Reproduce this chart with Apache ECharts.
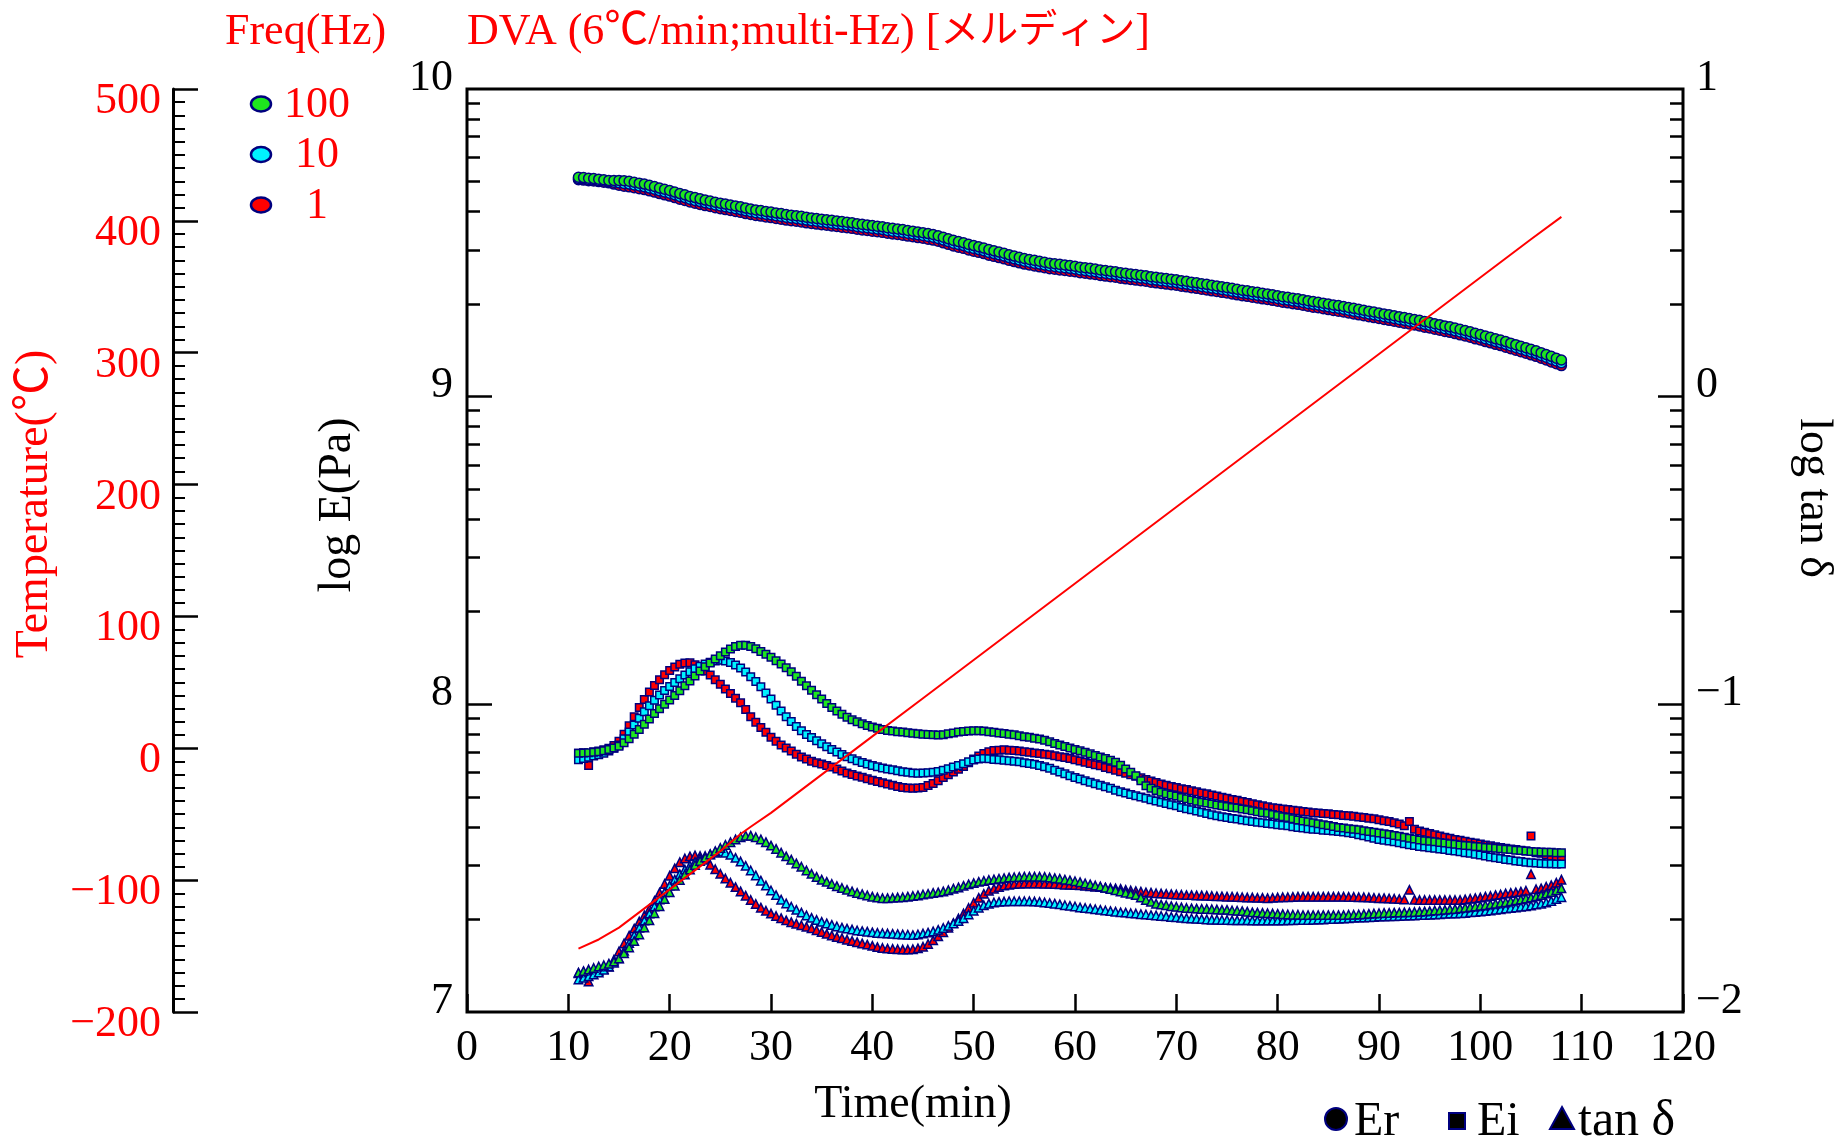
<!DOCTYPE html>
<html>
<head>
<meta charset="utf-8">
<title>DVA multi-Hz</title>
<script src="https://cdn.jsdelivr.net/npm/echarts@6/dist/echarts.min.js"></script>
<style>
html,body{margin:0;padding:0;background:#fff;}
#chart{width:1840px;height:1139px;}
</style>
</head>
<body>
<div id="chart"></div>
<script>
// Measurement time (min), every 0.5 min
const time = [11,11.5,12,12.5,13,13.5,14,14.5,15,15.5,16,16.5,17,17.5,18,18.5,19,19.5,20,20.5,
  21,21.5,22,22.5,23,23.5,24,24.5,25,25.5,26,26.5,27,27.5,28,28.5,29,29.5,30,30.5,
  31,31.5,32,32.5,33,33.5,34,34.5,35,35.5,36,36.5,37,37.5,38,38.5,39,39.5,40,40.5,
  41,41.5,42,42.5,43,43.5,44,44.5,45,45.5,46,46.5,47,47.5,48,48.5,49,49.5,50,50.5,
  51,51.5,52,52.5,53,53.5,54,54.5,55,55.5,56,56.5,57,57.5,58,58.5,59,59.5,60,60.5,
  61,61.5,62,62.5,63,63.5,64,64.5,65,65.5,66,66.5,67,67.5,68,68.5,69,69.5,70,70.5,
  71,71.5,72,72.5,73,73.5,74,74.5,75,75.5,76,76.5,77,77.5,78,78.5,79,79.5,80,80.5,
  81,81.5,82,82.5,83,83.5,84,84.5,85,85.5,86,86.5,87,87.5,88,88.5,89,89.5,90,90.5,
  91,91.5,92,92.5,93,93.5,94,94.5,95,95.5,96,96.5,97,97.5,98,98.5,99,99.5,100,100.5,
  101,101.5,102,102.5,103,103.5,104,104.5,105,105.5,106,106.5,107,107.5,108];

// log Er (Pa)
const er100 = [9.713,9.712,9.710,9.709,9.707,9.705,9.703,9.703,9.703,9.702,
  9.700,9.697,9.694,9.691,9.687,9.683,9.678,9.674,9.670,9.665,
  9.660,9.656,9.651,9.647,9.643,9.639,9.636,9.632,9.629,9.626,
  9.623,9.620,9.617,9.613,9.610,9.607,9.605,9.602,9.600,9.597,
  9.595,9.592,9.590,9.588,9.586,9.583,9.581,9.579,9.577,9.575,
  9.573,9.571,9.569,9.567,9.565,9.562,9.560,9.558,9.556,9.554,
  9.552,9.549,9.547,9.545,9.543,9.540,9.538,9.535,9.533,9.530,
  9.527,9.523,9.518,9.513,9.508,9.504,9.500,9.495,9.491,9.487,
  9.483,9.478,9.474,9.470,9.466,9.461,9.457,9.453,9.449,9.446,
  9.443,9.440,9.437,9.434,9.432,9.430,9.428,9.426,9.424,9.421,
  9.419,9.417,9.415,9.412,9.410,9.408,9.406,9.403,9.401,9.399,
  9.397,9.395,9.393,9.390,9.388,9.386,9.384,9.382,9.380,9.377,
  9.375,9.372,9.370,9.367,9.365,9.362,9.360,9.357,9.355,9.352,
  9.349,9.346,9.344,9.341,9.339,9.336,9.334,9.331,9.328,9.325,
  9.323,9.320,9.318,9.315,9.312,9.309,9.307,9.304,9.301,9.298,
  9.296,9.293,9.290,9.287,9.284,9.281,9.278,9.275,9.272,9.269,
  9.266,9.263,9.260,9.257,9.254,9.251,9.248,9.244,9.241,9.237,
  9.234,9.230,9.227,9.223,9.219,9.215,9.211,9.206,9.202,9.197,
  9.193,9.188,9.184,9.179,9.174,9.169,9.164,9.159,9.154,9.149,
  9.143,9.137,9.131,9.125,9.119];
const er10 = [9.709,9.708,9.706,9.705,9.703,9.701,9.699,9.697,9.695,9.693,
  9.691,9.688,9.685,9.682,9.678,9.674,9.669,9.665,9.661,9.656,
  9.651,9.647,9.642,9.638,9.634,9.630,9.627,9.623,9.620,9.617,
  9.614,9.611,9.608,9.604,9.601,9.598,9.596,9.593,9.591,9.588,
  9.586,9.583,9.581,9.579,9.577,9.574,9.572,9.570,9.568,9.566,
  9.564,9.562,9.560,9.558,9.556,9.553,9.551,9.549,9.547,9.545,
  9.543,9.540,9.538,9.536,9.534,9.531,9.529,9.526,9.524,9.521,
  9.518,9.514,9.509,9.504,9.499,9.495,9.491,9.486,9.482,9.478,
  9.474,9.469,9.465,9.461,9.457,9.452,9.448,9.444,9.440,9.437,
  9.434,9.431,9.428,9.425,9.423,9.421,9.419,9.417,9.415,9.412,
  9.410,9.408,9.406,9.403,9.401,9.399,9.397,9.394,9.392,9.390,
  9.388,9.386,9.384,9.381,9.379,9.377,9.375,9.373,9.371,9.368,
  9.366,9.363,9.361,9.358,9.356,9.353,9.351,9.348,9.346,9.343,
  9.340,9.337,9.335,9.332,9.330,9.327,9.325,9.322,9.319,9.316,
  9.314,9.311,9.309,9.306,9.303,9.300,9.298,9.295,9.292,9.289,
  9.287,9.284,9.281,9.278,9.275,9.272,9.269,9.266,9.263,9.260,
  9.257,9.254,9.251,9.248,9.245,9.242,9.239,9.235,9.232,9.228,
  9.225,9.221,9.218,9.214,9.210,9.206,9.202,9.197,9.193,9.188,
  9.184,9.179,9.175,9.170,9.165,9.160,9.155,9.150,9.145,9.140,
  9.134,9.128,9.122,9.116,9.110];
const er1 = [9.705,9.704,9.702,9.701,9.699,9.697,9.695,9.691,9.687,9.684,
  9.682,9.679,9.676,9.673,9.669,9.665,9.660,9.656,9.652,9.647,
  9.642,9.638,9.633,9.629,9.625,9.621,9.618,9.614,9.611,9.608,
  9.605,9.602,9.599,9.595,9.592,9.589,9.587,9.584,9.582,9.579,
  9.577,9.574,9.572,9.570,9.568,9.565,9.563,9.561,9.559,9.557,
  9.555,9.553,9.551,9.549,9.547,9.544,9.542,9.540,9.538,9.536,
  9.534,9.531,9.529,9.527,9.525,9.522,9.520,9.517,9.515,9.512,
  9.509,9.505,9.500,9.495,9.490,9.486,9.482,9.477,9.473,9.469,
  9.465,9.460,9.456,9.452,9.448,9.443,9.439,9.435,9.431,9.428,
  9.425,9.422,9.419,9.416,9.414,9.412,9.410,9.408,9.406,9.403,
  9.401,9.399,9.397,9.394,9.392,9.390,9.388,9.385,9.383,9.381,
  9.379,9.377,9.375,9.372,9.370,9.368,9.366,9.364,9.362,9.359,
  9.357,9.354,9.352,9.349,9.347,9.344,9.342,9.339,9.337,9.334,
  9.331,9.328,9.326,9.323,9.321,9.318,9.316,9.313,9.310,9.307,
  9.305,9.302,9.300,9.297,9.294,9.291,9.289,9.286,9.283,9.280,
  9.278,9.275,9.272,9.269,9.266,9.263,9.260,9.257,9.254,9.251,
  9.248,9.245,9.242,9.239,9.236,9.233,9.230,9.226,9.223,9.219,
  9.216,9.212,9.209,9.205,9.201,9.197,9.193,9.188,9.184,9.179,
  9.175,9.170,9.166,9.161,9.156,9.151,9.146,9.141,9.136,9.131,
  9.125,9.119,9.113,9.107,9.101];

// log Ei (Pa)
const ei100 = [7.841,7.842,7.843,7.844,7.846,7.849,7.853,7.858,7.864,7.875,
  7.888,7.903,7.918,7.935,7.952,7.970,7.986,8.000,8.014,8.029,
  8.044,8.060,8.076,8.092,8.108,8.122,8.134,8.147,8.158,8.170,
  8.180,8.188,8.192,8.192,8.188,8.181,8.172,8.163,8.153,8.142,
  8.131,8.119,8.106,8.091,8.075,8.060,8.046,8.031,8.017,8.003,
  7.990,7.978,7.968,7.958,7.950,7.943,7.937,7.931,7.926,7.922,
  7.918,7.915,7.913,7.911,7.910,7.908,7.906,7.904,7.903,7.902,
  7.901,7.900,7.901,7.904,7.907,7.910,7.912,7.913,7.914,7.914,
  7.913,7.911,7.909,7.907,7.905,7.903,7.901,7.898,7.895,7.893,
  7.890,7.887,7.883,7.878,7.873,7.868,7.863,7.858,7.853,7.849,
  7.844,7.839,7.834,7.829,7.824,7.818,7.812,7.802,7.790,7.779,
  7.768,7.752,7.735,7.727,7.720,7.714,7.709,7.705,7.702,7.697,
  7.693,7.689,7.685,7.682,7.679,7.676,7.673,7.670,7.668,7.665,
  7.663,7.660,7.657,7.654,7.651,7.648,7.646,7.642,7.639,7.635,
  7.632,7.628,7.624,7.621,7.618,7.615,7.612,7.609,7.606,7.603,
  7.600,7.598,7.596,7.594,7.592,7.589,7.587,7.584,7.582,7.579,
  7.577,7.574,7.571,7.568,7.565,7.562,7.559,7.557,7.555,7.553,
  7.551,7.549,7.547,7.545,7.543,7.541,7.540,7.538,7.537,7.535,
  7.534,7.532,7.531,7.529,7.528,7.526,7.525,7.523,7.522,7.521,
  7.520,7.519,7.519,7.518,7.518];
const ei10 = [7.820,7.824,7.828,7.832,7.836,7.841,7.848,7.857,7.868,7.888,
  7.910,7.933,7.955,7.976,7.995,8.013,8.030,8.045,8.058,8.071,
  8.083,8.095,8.106,8.116,8.124,8.131,8.137,8.141,8.143,8.141,
  8.136,8.128,8.118,8.105,8.090,8.074,8.057,8.037,8.017,7.997,
  7.978,7.960,7.944,7.928,7.914,7.902,7.892,7.882,7.872,7.862,
  7.853,7.845,7.837,7.830,7.823,7.817,7.811,7.806,7.801,7.797,
  7.793,7.790,7.787,7.784,7.781,7.779,7.777,7.776,7.777,7.778,
  7.779,7.782,7.786,7.791,7.796,7.801,7.807,7.813,7.819,7.822,
  7.824,7.823,7.821,7.820,7.818,7.817,7.815,7.813,7.810,7.808,
  7.805,7.801,7.797,7.792,7.786,7.780,7.774,7.768,7.762,7.757,
  7.752,7.747,7.742,7.737,7.732,7.727,7.721,7.716,7.712,7.707,
  7.703,7.699,7.695,7.690,7.686,7.682,7.678,7.674,7.670,7.665,
  7.661,7.657,7.653,7.649,7.645,7.641,7.638,7.635,7.632,7.629,
  7.627,7.624,7.622,7.619,7.617,7.615,7.613,7.611,7.609,7.607,
  7.605,7.602,7.600,7.598,7.596,7.594,7.593,7.591,7.590,7.588,
  7.587,7.585,7.583,7.580,7.576,7.573,7.569,7.565,7.561,7.558,
  7.556,7.553,7.550,7.547,7.544,7.541,7.538,7.536,7.534,7.532,
  7.530,7.528,7.525,7.523,7.521,7.518,7.516,7.513,7.510,7.507,
  7.504,7.501,7.499,7.496,7.494,7.491,7.489,7.487,7.485,7.484,
  7.483,7.482,7.482,7.481,7.481];
const ei1 = [7.841,7.843,7.801,7.846,7.848,7.852,7.857,7.866,7.880,7.903,
  7.930,7.960,7.990,8.016,8.040,8.061,8.080,8.096,8.110,8.121,
  8.130,8.134,8.135,8.129,8.120,8.108,8.095,8.080,8.065,8.050,
  8.035,8.020,8.005,7.983,7.960,7.942,7.925,7.909,7.893,7.880,
  7.868,7.858,7.848,7.838,7.829,7.822,7.815,7.810,7.806,7.801,
  7.796,7.790,7.783,7.777,7.772,7.767,7.763,7.758,7.753,7.749,
  7.745,7.741,7.737,7.733,7.730,7.728,7.727,7.728,7.730,7.736,
  7.743,7.752,7.762,7.771,7.780,7.789,7.798,7.810,7.822,7.832,
  7.840,7.846,7.850,7.851,7.852,7.851,7.850,7.848,7.846,7.844,
  7.842,7.840,7.838,7.836,7.833,7.830,7.827,7.824,7.820,7.816,
  7.812,7.808,7.804,7.800,7.795,7.791,7.786,7.781,7.776,7.771,
  7.766,7.761,7.756,7.751,7.746,7.741,7.737,7.733,7.730,7.726,
  7.723,7.719,7.716,7.712,7.709,7.705,7.702,7.698,7.695,7.691,
  7.688,7.684,7.681,7.677,7.674,7.670,7.667,7.664,7.662,7.660,
  7.658,7.656,7.654,7.652,7.650,7.648,7.647,7.645,7.644,7.642,
  7.641,7.639,7.638,7.636,7.634,7.632,7.630,7.628,7.625,7.622,
  7.619,7.615,7.611,7.605,7.619,7.594,7.588,7.584,7.580,7.576,
  7.572,7.568,7.565,7.561,7.558,7.555,7.552,7.549,7.546,7.543,
  7.540,7.537,7.535,7.532,7.530,7.528,7.526,7.523,7.572,7.518,
  7.516,7.511,7.506,7.502,7.497];

// log tan delta
const tan100 = [-1.872,-1.867,-1.862,-1.857,-1.852,-1.848,-1.843,-1.836,-1.826,-1.809,
  -1.790,-1.769,-1.748,-1.725,-1.702,-1.679,-1.656,-1.633,-1.611,-1.590,
  -1.571,-1.553,-1.537,-1.522,-1.509,-1.498,-1.488,-1.477,-1.467,-1.457,
  -1.448,-1.439,-1.432,-1.427,-1.427,-1.432,-1.439,-1.448,-1.459,-1.470,
  -1.482,-1.494,-1.505,-1.517,-1.528,-1.540,-1.551,-1.561,-1.570,-1.577,
  -1.584,-1.591,-1.597,-1.603,-1.608,-1.613,-1.617,-1.621,-1.625,-1.628,
  -1.630,-1.630,-1.629,-1.628,-1.627,-1.625,-1.623,-1.621,-1.618,-1.616,
  -1.613,-1.611,-1.608,-1.604,-1.599,-1.595,-1.590,-1.585,-1.581,-1.577,
  -1.574,-1.571,-1.569,-1.567,-1.565,-1.563,-1.562,-1.561,-1.560,-1.560,
  -1.560,-1.560,-1.561,-1.563,-1.565,-1.567,-1.570,-1.572,-1.575,-1.578,
  -1.582,-1.585,-1.589,-1.592,-1.596,-1.600,-1.604,-1.608,-1.612,-1.616,
  -1.620,-1.628,-1.636,-1.642,-1.648,-1.651,-1.653,-1.656,-1.658,-1.660,
  -1.662,-1.663,-1.664,-1.665,-1.665,-1.666,-1.667,-1.668,-1.668,-1.670,
  -1.671,-1.672,-1.674,-1.676,-1.677,-1.678,-1.679,-1.680,-1.681,-1.682,
  -1.683,-1.684,-1.684,-1.685,-1.685,-1.685,-1.685,-1.685,-1.685,-1.685,
  -1.685,-1.685,-1.684,-1.684,-1.683,-1.682,-1.681,-1.680,-1.679,-1.678,
  -1.678,-1.677,-1.677,-1.676,-1.676,-1.675,-1.674,-1.673,-1.672,-1.670,
  -1.669,-1.668,-1.666,-1.665,-1.663,-1.661,-1.659,-1.657,-1.655,-1.653,
  -1.650,-1.648,-1.645,-1.643,-1.640,-1.637,-1.634,-1.631,-1.628,-1.624,
  -1.620,-1.615,-1.610,-1.604,-1.598];
const tan10 = [-1.894,-1.889,-1.884,-1.878,-1.872,-1.863,-1.852,-1.840,-1.825,-1.801,
  -1.776,-1.751,-1.726,-1.703,-1.680,-1.657,-1.634,-1.611,-1.589,-1.570,
  -1.552,-1.537,-1.524,-1.512,-1.501,-1.493,-1.487,-1.482,-1.479,-1.482,
  -1.489,-1.499,-1.511,-1.525,-1.540,-1.556,-1.573,-1.589,-1.605,-1.620,
  -1.635,-1.647,-1.658,-1.668,-1.677,-1.686,-1.694,-1.701,-1.707,-1.712,
  -1.717,-1.722,-1.726,-1.729,-1.732,-1.735,-1.737,-1.739,-1.741,-1.743,
  -1.744,-1.745,-1.746,-1.747,-1.748,-1.749,-1.750,-1.748,-1.745,-1.742,
  -1.738,-1.733,-1.727,-1.720,-1.712,-1.704,-1.695,-1.683,-1.671,-1.661,
  -1.653,-1.648,-1.644,-1.642,-1.641,-1.640,-1.640,-1.640,-1.640,-1.640,
  -1.641,-1.642,-1.644,-1.646,-1.648,-1.650,-1.653,-1.655,-1.657,-1.660,
  -1.662,-1.664,-1.666,-1.668,-1.670,-1.672,-1.674,-1.676,-1.677,-1.679,
  -1.680,-1.682,-1.683,-1.685,-1.686,-1.688,-1.689,-1.691,-1.692,-1.694,
  -1.695,-1.696,-1.697,-1.698,-1.699,-1.700,-1.700,-1.701,-1.701,-1.702,
  -1.702,-1.702,-1.702,-1.703,-1.703,-1.703,-1.703,-1.703,-1.703,-1.703,
  -1.702,-1.702,-1.701,-1.701,-1.701,-1.700,-1.699,-1.699,-1.698,-1.698,
  -1.697,-1.696,-1.695,-1.694,-1.693,-1.693,-1.692,-1.691,-1.690,-1.690,
  -1.689,-1.689,-1.688,-1.687,-1.686,-1.686,-1.685,-1.685,-1.684,-1.683,
  -1.682,-1.681,-1.680,-1.680,-1.679,-1.678,-1.676,-1.675,-1.673,-1.672,
  -1.670,-1.668,-1.666,-1.664,-1.662,-1.660,-1.658,-1.656,-1.654,-1.651,
  -1.648,-1.644,-1.639,-1.633,-1.627];
const tan1 = [-1.874,-1.870,-1.901,-1.868,-1.866,-1.860,-1.853,-1.830,-1.803,-1.777,
  -1.752,-1.729,-1.706,-1.686,-1.665,-1.639,-1.612,-1.584,-1.557,-1.533,
  -1.513,-1.501,-1.494,-1.491,-1.493,-1.505,-1.521,-1.536,-1.551,-1.566,
  -1.580,-1.594,-1.608,-1.622,-1.636,-1.649,-1.661,-1.671,-1.680,-1.688,
  -1.695,-1.702,-1.708,-1.713,-1.718,-1.723,-1.728,-1.734,-1.740,-1.746,
  -1.751,-1.756,-1.760,-1.765,-1.769,-1.773,-1.777,-1.781,-1.785,-1.789,
  -1.792,-1.794,-1.795,-1.796,-1.797,-1.797,-1.796,-1.793,-1.788,-1.779,
  -1.767,-1.754,-1.741,-1.726,-1.711,-1.696,-1.680,-1.662,-1.645,-1.629,
  -1.616,-1.606,-1.599,-1.594,-1.589,-1.586,-1.584,-1.583,-1.582,-1.582,
  -1.582,-1.582,-1.583,-1.583,-1.584,-1.585,-1.586,-1.586,-1.587,-1.588,
  -1.590,-1.591,-1.593,-1.594,-1.596,-1.597,-1.598,-1.600,-1.603,-1.605,
  -1.607,-1.609,-1.611,-1.612,-1.614,-1.615,-1.616,-1.617,-1.618,-1.619,
  -1.620,-1.620,-1.621,-1.621,-1.622,-1.623,-1.624,-1.624,-1.625,-1.625,
  -1.626,-1.627,-1.628,-1.628,-1.629,-1.629,-1.630,-1.629,-1.628,-1.627,
  -1.627,-1.626,-1.625,-1.625,-1.625,-1.625,-1.625,-1.625,-1.625,-1.625,
  -1.625,-1.625,-1.626,-1.626,-1.627,-1.627,-1.628,-1.629,-1.630,-1.630,
  -1.631,-1.632,-1.633,-1.634,-1.603,-1.635,-1.636,-1.636,-1.636,-1.636,
  -1.636,-1.636,-1.636,-1.636,-1.636,-1.634,-1.632,-1.630,-1.628,-1.625,
  -1.623,-1.620,-1.618,-1.615,-1.613,-1.611,-1.609,-1.606,-1.552,-1.601,
  -1.598,-1.593,-1.588,-1.580,-1.570];

// Temperature program (min, degC)
const tempTime = [11,13,15,20,25,27,28,30,35,40,45,50,55,60,65,70,75,80,85,90,95,100,105,108];
const tempVal = [-152,-145,-136,-107,-78,-65,-59.5,-49,-20,9,38,67,96,125,154,183,212,241,270,299,328,357,386,403];

// Axis ticks / labels
const timeTicks = [0,10,20,30,40,50,60,70,80,90,100,110,120];
const logELabels = [7,8,9,10];
const logTanLabels = [-2,-1,0,1];
const freqLabels = ['100','10','1'];
const markerLabels = ['Er','Ei','tan δ'];

const SERIF = "'Liberation Serif','Times New Roman','Noto Sans CJK JP',serif";
const RED = '#ff0000';
const NAVY = '#00007f';
const FREQ_COLORS = ['#1ee61e', '#00f2ff', '#ff0000'];

// decade minor ticks (log spacing) for the log-valued axes
function logTicks(lo, hi) {
  const v = [];
  for (let n = lo; n < hi; n++) {
    for (let k = 2; k <= 9; k++) v.push(n + Math.log10(k));
  }
  return v;
}
const minus = v => (v < 0 ? '\u2212' + Math.abs(v) : String(v));
const pairs = (xs, ys) => xs.map((x, i) => [x, ys[i]]);

function scatter(name, ys, axis, symbol, size, color) {
  return {
    name: name, type: 'scatter', xAxisIndex: 0, yAxisIndex: axis,
    symbol: symbol, symbolSize: size, silent: true,
    itemStyle: { color: color, borderColor: NAVY, borderWidth: 1.5, opacity: 1 },
    emphasis: { disabled: true },
    data: pairs(time, ys)
  };
}

const chart = echarts.init(document.getElementById('chart'), null, { renderer: 'canvas' });

const tickLine = { color: '#000', width: 2.5 };
const valueLabel = { color: '#000', fontSize: 44, fontFamily: SERIF };

const option = {
  animation: false,
  backgroundColor: '#fff',
  grid: {
    left: 467, top: 89, right: 157, bottom: 127,
    show: true, borderColor: '#000', borderWidth: 3, backgroundColor: 'transparent'
  },
  xAxis: {
    type: 'value', min: 0, max: 120, interval: 10, position: 'bottom',
    axisLine: { show: false, onZero: false }, splitLine: { show: false },
    axisTick: { show: true, inside: true, length: 18, lineStyle: tickLine, customValues: timeTicks },
    axisLabel: Object.assign({ margin: 14, customValues: timeTicks }, valueLabel)
  },
  yAxis: [
    { // log E, minor ticks + labels
      type: 'value', position: 'left', min: 7, max: 10,
      axisLine: { show: false, onZero: false }, splitLine: { show: false },
      axisTick: { show: true, inside: true, length: 13, lineStyle: tickLine, customValues: logTicks(7, 10) },
      axisLabel: Object.assign({ margin: 14, verticalAlign: 'bottom', lineHeight: 22, customValues: logELabels }, valueLabel)
    },
    { // log E, decade ticks
      type: 'value', position: 'left', min: 7, max: 10,
      axisLine: { show: false, onZero: false }, splitLine: { show: false },
      axisTick: { show: true, inside: true, length: 25, lineStyle: tickLine, customValues: [8, 9] },
      axisLabel: { show: false }
    },
    { // log tan delta, minor ticks + labels
      type: 'value', position: 'right', min: -2, max: 1,
      axisLine: { show: false, onZero: false }, splitLine: { show: false },
      axisTick: { show: true, inside: true, length: 13, lineStyle: tickLine, customValues: logTicks(-2, 1) },
      axisLabel: Object.assign({ margin: 13, verticalAlign: 'bottom', lineHeight: 22, customValues: logTanLabels, formatter: minus }, valueLabel)
    },
    { // log tan delta, decade ticks
      type: 'value', position: 'right', min: -2, max: 1,
      axisLine: { show: false, onZero: false }, splitLine: { show: false },
      axisTick: { show: true, inside: true, length: 25, lineStyle: tickLine, customValues: [-1, 0] },
      axisLabel: { show: false }
    },
    { // temperature
      type: 'value', position: 'left', offset: 294, min: -200, max: 500, interval: 100,
      axisLine: { show: true, onZero: false, lineStyle: { color: '#000', width: 3 } },
      splitLine: { show: false },
      axisTick: { show: true, inside: true, length: 25, lineStyle: tickLine },
      minorTick: { show: true, splitNumber: 10, length: 12, lineStyle: { color: '#000', width: 2 } },
      axisLabel: { color: RED, fontSize: 44, fontFamily: SERIF, margin: 12,
        verticalAlign: 'top', lineHeight: 25, formatter: minus }
    }
  ],
  // 1 Hz drawn first, 100 Hz last
  series: [
    scatter('1', er1, 0, 'circle', 10, FREQ_COLORS[2]),
    scatter('10', er10, 0, 'circle', 10, FREQ_COLORS[1]),
    scatter('100', er100, 0, 'circle', 10, FREQ_COLORS[0]),
    scatter('1', ei1, 0, 'rect', 7.5, FREQ_COLORS[2]),
    scatter('10', ei10, 0, 'rect', 7.5, FREQ_COLORS[1]),
    scatter('100', ei100, 0, 'rect', 7.5, FREQ_COLORS[0]),
    scatter('1', tan1, 2, 'triangle', 8.5, FREQ_COLORS[2]),
    scatter('10', tan10, 2, 'triangle', 8.5, FREQ_COLORS[1]),
    scatter('100', tan100, 2, 'triangle', 8.5, FREQ_COLORS[0]),
    {
      name: 'Temperature', type: 'line', xAxisIndex: 0, yAxisIndex: 4, z: 10,
      showSymbol: false, silent: true,
      lineStyle: { color: RED, width: 2 },
      data: pairs(tempTime, tempVal)
    }
  ],
  graphic: [
    { type: 'text', x: 225, y: 32, style: { text: 'Freq(Hz)', fill: RED, fontSize: 44, fontFamily: SERIF, align: 'left', verticalAlign: 'middle' } },
    { type: 'text', x: 467, y: 32, style: {
        text: '{a|DVA (6℃/min;multi-Hz) [}{b|メルディン}{a|]}',
        fill: RED, fontSize: 44, fontFamily: SERIF, align: 'left', verticalAlign: 'middle',
        rich: { a: { fill: RED, fontSize: 44, fontFamily: SERIF }, b: { fill: RED, fontSize: 39, fontFamily: SERIF } } } },
    // frequency legend
    ...freqLabels.flatMap((lab, i) => [
      { type: 'ellipse', shape: { cx: 261, cy: 104 + i * 50.5, rx: 10, ry: 7.5 },
        style: { fill: FREQ_COLORS[i], stroke: NAVY, lineWidth: 2.5 } },
      { type: 'text', x: 317, y: 105 + i * 50.5,
        style: { text: lab, fill: RED, fontSize: 44, fontFamily: SERIF, align: 'center', verticalAlign: 'middle' } }
    ]),
    // axis titles
    { type: 'text', x: 35, y: 504, rotation: Math.PI / 2,
      style: { text: 'Temperature(℃)', fill: RED, fontSize: 46, fontFamily: SERIF, align: 'center', verticalAlign: 'middle' } },
    { type: 'text', x: 338, y: 505, rotation: Math.PI / 2,
      style: { text: 'log E(Pa)', fill: '#000', fontSize: 46, fontFamily: SERIF, align: 'center', verticalAlign: 'middle' } },
    { type: 'text', x: 1813, y: 498, rotation: -Math.PI / 2,
      style: { text: 'log tan δ', fill: '#000', fontSize: 46, fontFamily: SERIF, align: 'center', verticalAlign: 'middle' } },
    { type: 'text', x: 913, y: 1105,
      style: { text: 'Time(min)', fill: '#000', fontSize: 46, fontFamily: SERIF, align: 'center', verticalAlign: 'middle' } },
    // marker legend
    { type: 'circle', shape: { cx: 1336, cy: 1119, r: 11 }, style: { fill: '#000', stroke: NAVY, lineWidth: 2 } },
    { type: 'text', x: 1354, y: 1122, style: { text: markerLabels[0], fill: '#000', fontSize: 48, fontFamily: SERIF, align: 'left', verticalAlign: 'middle' } },
    { type: 'rect', shape: { x: 1449, y: 1113, width: 16, height: 16 }, style: { fill: '#000', stroke: NAVY, lineWidth: 2 } },
    { type: 'text', x: 1477, y: 1122, style: { text: markerLabels[1], fill: '#000', fontSize: 48, fontFamily: SERIF, align: 'left', verticalAlign: 'middle' } },
    { type: 'polygon', shape: { points: [[1562, 1107], [1574, 1129], [1550, 1129]] }, style: { fill: '#000', stroke: NAVY, lineWidth: 2 } },
    { type: 'text', x: 1578, y: 1122, style: { text: markerLabels[2], fill: '#000', fontSize: 50, fontFamily: SERIF, align: 'left', verticalAlign: 'middle' } }
  ]
};

chart.setOption(option);
</script>
</body>
</html>
